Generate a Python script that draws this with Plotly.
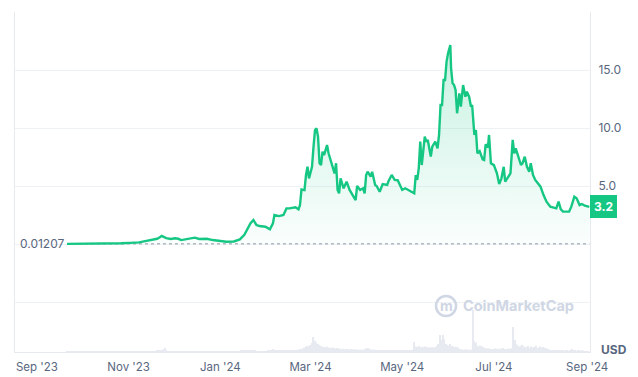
import pandas as pd
import plotly.graph_objects as go

# ---------------- data ----------------
price_dates = [
    "2023-09-21", "2023-09-28", "2023-10-06", "2023-10-14", "2023-10-20", "2023-10-27",
    "2023-11-02", "2023-11-08", "2023-11-12", "2023-11-17", "2023-11-20", "2023-11-22",
    "2023-11-23", "2023-11-26", "2023-11-29", "2023-12-02", "2023-12-04", "2023-12-06",
    "2023-12-10", "2023-12-15", "2023-12-18", "2023-12-23", "2023-12-27", "2024-01-01",
    "2024-01-05", "2024-01-10", "2024-01-14", "2024-01-17", "2024-01-19", "2024-01-21",
    "2024-01-23", "2024-01-25", "2024-01-27", "2024-01-31", "2024-02-03", "2024-02-05",
    "2024-02-06", "2024-02-09", "2024-02-12", "2024-02-14", "2024-02-16", "2024-02-20",
    "2024-02-22", "2024-02-23", "2024-02-24", "2024-02-26", "2024-02-27", "2024-02-28",
    "2024-02-29", "2024-03-02", "2024-03-03", "2024-03-04", "2024-03-05", "2024-03-06",
    "2024-03-07", "2024-03-08", "2024-03-09", "2024-03-10", "2024-03-11", "2024-03-12",
    "2024-03-13", "2024-03-15", "2024-03-17", "2024-03-18", "2024-03-19", "2024-03-20",
    "2024-03-21", "2024-03-23", "2024-03-25", "2024-03-27", "2024-03-29", "2024-03-31",
    "2024-04-01", "2024-04-03", "2024-04-05", "2024-04-06", "2024-04-07", "2024-04-08",
    "2024-04-10", "2024-04-11", "2024-04-13", "2024-04-14", "2024-04-16", "2024-04-18",
    "2024-04-21", "2024-04-22", "2024-04-24", "2024-04-26", "2024-04-28", "2024-05-01",
    "2024-05-03", "2024-05-05", "2024-05-07", "2024-05-09", "2024-05-10", "2024-05-11",
    "2024-05-12", "2024-05-13", "2024-05-14", "2024-05-16", "2024-05-17", "2024-05-18",
    "2024-05-20", "2024-05-21", "2024-05-23", "2024-05-24 12:00", "2024-05-25 12:00",
    "2024-05-26 12:00", "2024-05-27 12:00", "2024-05-28 12:00", "2024-05-29 12:00",
    "2024-05-30 12:00", "2024-05-31 12:00", "2024-06-02", "2024-06-02 12:00",
    "2024-06-03 12:00", "2024-06-04 12:00", "2024-06-05 12:00", "2024-06-06 12:00",
    "2024-06-08", "2024-06-09", "2024-06-10 12:00", "2024-06-12", "2024-06-13",
    "2024-06-14 12:00", "2024-06-15 18:00", "2024-06-16 12:00", "2024-06-18",
    "2024-06-19", "2024-06-20", "2024-06-21 12:00", "2024-06-23 12:00", "2024-06-24 12:00",
    "2024-06-25 12:00", "2024-06-27", "2024-06-27 18:00", "2024-06-29", "2024-07-01",
    "2024-07-03", "2024-07-04 12:00", "2024-07-06", "2024-07-07 12:00", "2024-07-08 12:00",
    "2024-07-10 12:00", "2024-07-12", "2024-07-13 12:00", "2024-07-14 12:00",
    "2024-07-15 12:00", "2024-07-17", "2024-07-19", "2024-07-20", "2024-07-21 12:00",
    "2024-07-23", "2024-07-24 12:00", "2024-07-25 12:00", "2024-07-27", "2024-07-28 12:00",
    "2024-07-30 12:00", "2024-08-01", "2024-08-03", "2024-08-05", "2024-08-07 12:00",
    "2024-08-09 12:00", "2024-08-11 12:00", "2024-08-13", "2024-08-14 12:00", "2024-08-16",
    "2024-08-18", "2024-08-20", "2024-08-21 12:00", "2024-08-23 12:00", "2024-08-25",
    "2024-08-27", "2024-08-28 12:00", "2024-08-30 12:00", "2024-09-02 12:00",
]
price_values = [
    0.01207, 0.013, 0.02, 0.03, 0.05, 0.06,
    0.10, 0.14, 0.25, 0.40, 0.45, 0.60,
    0.69, 0.50, 0.43, 0.49, 0.45, 0.34,
    0.42, 0.55, 0.43, 0.45, 0.34, 0.28,
    0.20, 0.22, 0.40, 0.80, 1.30, 1.78,
    2.07, 1.64, 1.55, 1.49, 1.26, 1.78,
    2.50, 2.41, 2.50, 3.07, 3.07, 3.16,
    2.99, 3.36, 4.70, 4.65, 5.95, 6.66,
    5.66, 6.66, 8.39, 9.83, 9.97, 9.25,
    6.96, 6.81, 7.96, 7.67, 8.10, 8.53,
    7.82, 6.96, 6.09, 6.96, 4.66, 4.37,
    5.66, 4.80, 5.37, 4.66, 4.22, 3.79,
    5.00, 4.66, 4.80, 4.37, 5.95, 6.23,
    5.81, 6.23, 5.09, 5.00, 4.51, 5.17,
    5.09, 5.46, 5.95, 5.52, 5.50, 4.66,
    4.80, 4.66, 4.57, 4.37, 5.95, 5.52,
    6.52, 8.82, 6.81, 9.25, 8.82, 8.97,
    7.53, 8.39, 8.82, 8.25, 9.40,
    11.98, 11.98, 14.14, 14.14,
    15.72, 16.44, 17.16, 15.15,
    13.85, 13.70, 13.28, 11.27,
    12.99, 11.84, 13.70, 12.70, 13.13,
    12.70, 11.84, 11.98, 9.40,
    9.83, 7.82, 8.00, 7.30, 7.24,
    8.60, 8.30, 9.40, 6.96, 6.80,
    6.09, 5.17, 5.66, 6.66, 5.37,
    5.80, 6.09, 8.97, 7.82,
    8.25, 7.53, 6.81, 6.96, 7.53,
    6.66, 6.23, 6.96, 5.95, 5.52,
    5.24, 4.94, 4.22, 3.65, 3.22,
    3.16, 3.07, 3.65, 2.99, 2.79,
    2.79, 2.79, 3.22, 4.08, 3.94,
    3.36, 3.45, 3.30, 3.20,
]
baseline_price = 0.01207
baseline_label = "0.01207"
last_price_label = "3.2"
currency_label = "USD"
watermark_text = "CoinMarketCap"

# daily trading volume (relative units), first day 2023-09-21
volume_start = "2023-09-21"
vol_sep23 = [3, 4, 3, 5, 4, 3, 4, 5, 3, 4]
vol_oct23 = [4, 3, 5, 4, 3, 4, 5, 4, 3, 4, 5, 4, 4, 3, 5, 4, 3, 4, 5, 4,
             3, 4, 5, 4, 3, 4, 5, 6, 4, 5, 4]
vol_nov23 = [5, 4, 6, 5, 4, 5, 6, 5, 6, 5, 6, 7, 6, 7, 8, 7, 9, 8, 10, 12,
             12, 14, 18, 25, 42, 15, 10, 9, 8, 7]
vol_dec23 = [7, 6, 7, 8, 6, 7, 6, 7, 8, 7, 6, 7, 8, 9, 10, 8, 7, 6, 7, 6,
             7, 6, 7, 6, 5, 6, 7, 6, 5, 6, 5]
vol_jan24 = [5, 6, 5, 6, 5, 6, 7, 6, 7, 8, 7, 8, 9, 10, 12, 14, 16, 18, 15, 14,
             16, 14, 12, 11, 10, 9, 8, 9, 8, 9, 8]
vol_feb24 = [10, 12, 14, 20, 30, 22, 15, 12, 14, 16, 18, 15, 14, 16, 15, 13, 12, 14, 15, 16,
             20, 25, 30, 28, 35, 45, 55, 60, 55]
vol_mar24 = [70, 90, 150, 110, 95, 80, 70, 60, 55, 50, 48, 52, 45, 42, 40, 44, 38, 36, 40, 35,
             30, 28, 32, 26, 30, 28, 25, 30, 27, 24, 26]
vol_apr24 = [22, 25, 20, 24, 22, 28, 38, 40, 30, 25, 22, 24, 20, 18, 22, 20, 18, 20, 17, 19,
             18, 16, 20, 18, 17, 15, 16, 14, 15, 13]
vol_may24 = [12, 14, 12, 13, 11, 12, 14, 13, 100, 55, 50, 60, 45, 52, 48, 55, 50, 45, 48, 42,
             50, 45, 48, 60, 80, 170, 120, 170, 130, 80, 70]
vol_jun24 = [65, 80, 60, 55, 50, 52, 45, 30, 28, 25, 22, 26, 24, 22, 20, 25, 420, 110, 95, 60,
             55, 65, 58, 50, 40, 35, 38, 32, 30, 28]
vol_jul24 = [30, 35, 32, 28, 30, 35, 40, 32, 28, 30, 35, 30, 40, 250, 120, 80, 65, 55, 60, 70,
             55, 45, 50, 60, 40, 55, 45, 50, 62, 40, 45]
vol_aug24 = [55, 45, 50, 40, 38, 30, 20, 18, 15, 14, 12, 15, 13, 12, 14, 12, 10, 11, 12, 10,
             12, 30, 14, 12, 10, 11, 12, 10, 11, 9, 10]
vol_sep24 = [10, 8]

volumes = (vol_sep23 + vol_oct23 + vol_nov23 + vol_dec23 + vol_jan24 + vol_feb24 +
           vol_mar24 + vol_apr24 + vol_may24 + vol_jun24 + vol_jul24 + vol_aug24 + vol_sep24)
volume_dates = pd.date_range(volume_start, periods=len(volumes), freq="D")

# ---------------- styling ----------------
GREEN = "#16c784"
LABEL = "#58667e"
GRID = "#eff2f5"
LINE = "#e6e9ee"
WM = "#cfd6e4"

fig = go.Figure()

fig.add_trace(go.Bar(
    x=volume_dates, y=volumes, yaxis="y2",
    marker=dict(color="#e7eaf0", line=dict(width=0)),
    hoverinfo="skip",
))

fig.add_trace(go.Scatter(
    x=[price_dates[0], price_dates[-1]], y=[baseline_price, baseline_price],
    mode="lines", line=dict(color="#8c95a5", width=1, dash="dot"),
    hoverinfo="skip",
))

fig.add_trace(go.Scatter(
    x=price_dates, y=price_values, mode="lines",
    line=dict(color=GREEN, width=2.4),
    fill="tozeroy",
    fillgradient=dict(
        type="vertical",
        colorscale=[[0, "rgba(22,199,132,0.02)"], [1, "rgba(22,199,132,0.24)"]],
    ),
))

# page body has an 8px default margin: figure is sized/offset to compensate
fig.update_layout(
    width=630, height=369,
    margin=dict(l=7, r=48, t=4, b=25),
    plot_bgcolor="white", paper_bgcolor="white",
    showlegend=False, bargap=0.15,
    font=dict(family="Inter, sans-serif", color=LABEL, size=12),
    xaxis=dict(
        type="date", automargin=False,
        range=["2023-08-17 10:00", "2024-09-02 22:00"],
        tick0="2023-09-01", dtick="M2", tickformat="%b '%y",
        showgrid=False, zeroline=False,
        showline=True, linecolor=LINE, linewidth=1,
        ticks="outside", ticklen=4, tickcolor="rgba(0,0,0,0)",
        tickfont=dict(size=11.5, color=LABEL),
    ),
    yaxis=dict(
        range=[-9.31, 20], side="right", automargin=False,
        tickvals=[-5, 0, 5, 10, 15, 20],
        ticktext=["", "", "5.0", "10.0", "15.0", ""],
        showgrid=True, gridcolor=GRID, gridwidth=1, zeroline=False,
        showline=True, mirror=True, linecolor=LINE, linewidth=1,
        ticks="", ticklabelstandoff=5,
        tickfont=dict(size=12, color=LABEL),
    ),
    yaxis2=dict(overlaying="y", range=[0, 3400], visible=False),
)

fig.add_annotation(
    x=0, xref="paper", xanchor="left", xshift=3,
    y=baseline_price, yref="y", yanchor="middle",
    text=baseline_label, showarrow=False,
    font=dict(size=12, color=LABEL),
)
fig.add_annotation(
    x=1, xref="paper", xanchor="left",
    y=price_values[-1], yref="y", yanchor="middle",
    text="<b>" + last_price_label + "</b>", showarrow=False,
    bgcolor=GREEN, bordercolor=GREEN, borderpad=3, borderwidth=1,
    font=dict(size=12, color="white"),
)
fig.add_annotation(
    x=1, xref="paper", xanchor="left", xshift=9,
    y=0, yref="paper", yanchor="middle", yshift=3,
    text="<b>" + currency_label + "</b>", showarrow=False,
    font=dict(size=12, color=LABEL),
)

# watermark
fig.add_shape(
    type="circle", xref="paper", yref="paper",
    xsizemode="pixel", ysizemode="pixel",
    xanchor=0.7496, yanchor=0.1353,
    x0=-10, x1=10, y0=-10, y1=10,
    line=dict(color=WM, width=2.5),
)
fig.add_annotation(
    x=0.7496, xref="paper", y=0.1353, yref="paper",
    xanchor="center", yanchor="middle",
    text="<b>m</b>", showarrow=False,
    font=dict(size=14, color=WM),
)
fig.add_annotation(
    x=0.8765, xref="paper", y=0.138, yref="paper",
    xanchor="center", yanchor="middle",
    text="<b>" + watermark_text + "</b>", showarrow=False,
    font=dict(size=14.5, color=WM),
)

fig.write_html("out.html")
